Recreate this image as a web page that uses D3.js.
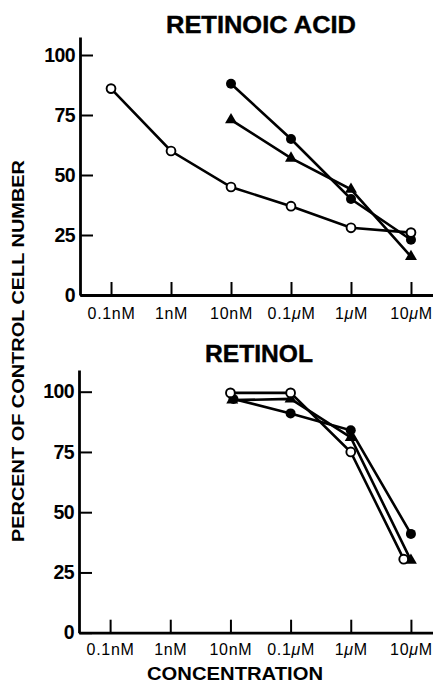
<!DOCTYPE html>
<html>
<head>
<meta charset="utf-8">
<script src="https://cdn.jsdelivr.net/npm/d3@7"></script>
<style>
  body { margin: 0; background: #fff; }
  svg { display: block; font-family: "Liberation Sans", Arial, sans-serif; }
</style>
</head>
<body>
<svg id="chart" width="433" height="684"></svg>
<script>
// concentration labels, one per decade
const concLabels = ["0.1nM", "1nM", "10nM", "0.1\u03bcM", "1\u03bcM", "10\u03bcM"];
const yTicks = [0, 25, 50, 75, 100];

// retinoic acid (top panel)
const raOpenX = [0, 1, 2, 3, 4, 5];
const raOpen = [86, 60, 45, 37, 28, 26];
const raFilledX = [2, 3, 4, 5];
const raFilled = [88, 65, 40, 23];
const raTriX = [2, 3, 4, 5];
const raTri = [73, 57, 44, 16];

// retinol (bottom panel)
const rolOpenX = [2, 3, 4, 4.88];
const rolOpen = [99.5, 99.5, 75, 30.5];
const rolFilledX = [2.05, 3, 4, 5];
const rolFilled = [97, 91, 84, 41];
const rolTriX = [2.03, 3, 4, 5];
const rolTri = [96.5, 97, 81, 30];

const svg = d3.select("#chart");

function panel(cfg) {
    const g = svg.append("g");

    const x = d3.scaleLinear()
        .domain([-0.517, 5.367])
        .range([cfg.left, 433]);
    const y = d3.scaleLinear()
        .domain([0, 100])
        .range([cfg.y0, cfg.y100]);

    // x axis, ticks point up
    const xAxis = g.append("g")
        .attr("transform", `translate(0,${cfg.y0})`)
        .call(d3.axisBottom(x)
            .tickValues(d3.range(concLabels.length))
            .tickFormat(i => concLabels[i])
            .tickSizeInner(-13)
            .tickSizeOuter(0)
            .tickPadding(cfg.labelPad));
    xAxis.select(".domain").attr("stroke-width", 2.8);
    xAxis.selectAll(".tick line").attr("stroke-width", 2);
    xAxis.selectAll(".tick text")
        .attr("font-size", 16)
        .attr("letter-spacing", 0.7)
        .attr("fill", "#000")
        .each(function (d) {
            // draw the micro sign in italics
            const t = d3.select(this);
            const s = concLabels[d];
            if (s.indexOf("\u03bc") < 0) return;
            const parts = s.split("\u03bc");
            t.text(null);
            t.append("tspan").text(parts[0]);
            t.append("tspan").attr("font-style", "italic").text("\u03bc");
            t.append("tspan").text(parts[1]);
        });

    // y axis, ticks point right
    const yScaleAxis = d3.scaleLinear()
        .domain([0, cfg.yTop])
        .range([cfg.y0, y(cfg.yTop)]);
    const yAxis = g.append("g")
        .attr("transform", `translate(${cfg.left},0)`)
        .call(d3.axisLeft(yScaleAxis)
            .tickValues(yTicks)
            .tickSizeInner(-13)
            .tickSizeOuter(0)
            .tickPadding(5));
    yAxis.select(".domain").attr("stroke-width", 2.8);
    yAxis.selectAll(".tick line").attr("stroke-width", 2);
    yAxis.selectAll(".tick text")
        .attr("font-size", 19.5)
        .attr("font-weight", "bold")
        .attr("letter-spacing", -0.6)
        .attr("fill", "#000");

    // title
    g.append("text")
        .attr("x", cfg.titleX)
        .attr("y", cfg.titleY)
        .attr("text-anchor", "middle")
        .attr("font-size", 23)
        .attr("font-weight", "bold")
        .attr("stroke", "#000")
        .attr("stroke-width", 0.4)
        .attr("textLength", cfg.titleLen)
        .attr("lengthAdjust", "spacingAndGlyphs")
        .text(cfg.title);

    const line = d3.line()
        .x(d => x(d[0]))
        .y(d => y(d[1]));

    cfg.series.forEach(s => {
        const pts = s.xs.map((v, i) => [v, s.ys[i]]);
        g.append("path")
            .datum(pts)
            .attr("d", line)
            .attr("fill", "none")
            .attr("stroke", "#000")
            .attr("stroke-width", 2.6);

        const m = g.selectAll(null).data(pts).enter();
        if (s.type === "tri") {
            m.append("path")
                .attr("d", d3.symbol(d3.symbolTriangle, 62))
                .attr("transform", d => `translate(${x(d[0])},${y(d[1])})`)
                .attr("fill", "#000");
        } else {
            m.append("circle")
                .attr("cx", d => x(d[0]))
                .attr("cy", d => y(d[1]))
                .attr("r", s.type === "open" ? 4.4 : 5)
                .attr("fill", s.type === "open" ? "#fff" : "#000")
                .attr("stroke", "#000")
                .attr("stroke-width", s.type === "open" ? 1.9 : 0);
        }
    });
}

panel({
    title: "RETINOIC ACID", titleX: 261, titleY: 33, titleLen: 190,
    left: 80, y0: 295, y100: 55, yTop: 107.5, labelPad: 13,
    series: [
        { type: "filled", xs: raFilledX, ys: raFilled },
        { type: "tri", xs: raTriX, ys: raTri },
        { type: "open", xs: raOpenX, ys: raOpen }
    ]
});

panel({
    title: "RETINOL", titleX: 259, titleY: 362, titleLen: 108,
    left: 79, y0: 632.7, y100: 391.7, yTop: 109, labelPad: 11,
    series: [
        { type: "filled", xs: rolFilledX, ys: rolFilled },
        { type: "tri", xs: rolTriX, ys: rolTri },
        { type: "open", xs: rolOpenX, ys: rolOpen }
    ]
});

// shared axis titles
svg.append("text")
    .attr("transform", "translate(24,351) rotate(-90)")
    .attr("text-anchor", "middle")
    .attr("font-size", 17)
    .attr("font-weight", "bold")
    .attr("textLength", 382)
    .attr("lengthAdjust", "spacingAndGlyphs")
    .text("PERCENT OF CONTROL CELL NUMBER");

svg.append("text")
    .attr("x", 235)
    .attr("y", 680)
    .attr("text-anchor", "middle")
    .attr("font-size", 17.5)
    .attr("font-weight", "bold")
    .attr("textLength", 176)
    .attr("lengthAdjust", "spacingAndGlyphs")
    .text("CONCENTRATION");
</script>
</body>
</html>
